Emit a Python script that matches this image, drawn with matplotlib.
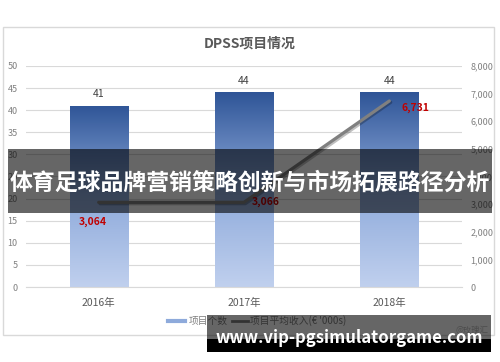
import numpy as np
import matplotlib.pyplot as plt
from matplotlib.patches import Rectangle
from matplotlib.ticker import FuncFormatter
from matplotlib.colors import LinearSegmentedColormap
import matplotlib.patheffects as pe

plt.rcParams['font.family'] = ['Noto Sans CJK SC', 'DejaVu Sans']

# 数据
years = ['2016年', '2017年', '2018年']
counts = [41, 44, 44]
income = [3064, 3066, 6731]
title = 'DPSS项目情况'
overlay_title = '体育足球品牌营销策略创新与市场拓展路径分析'
site = 'www.vip-pgsimulatorgame.com'

fig = plt.figure(figsize=(5, 3.62), dpi=100)
fig.patch.set_facecolor('white')

# 图表外框
fig.patches.append(Rectangle((3/500, 1-335/362), 491/500, 308/362, transform=fig.transFigure,
                             fill=False, edgecolor='#d9d9d9', lw=1, zorder=0))

ax = fig.add_axes([0.052, 0.207, 0.872, 0.611])
x = np.arange(len(years))

# 渐变柱
grad = np.linspace(0, 1, 256).reshape(-1, 1)
cmap = LinearSegmentedColormap.from_list('bar', ['#c0d0ee', '#8eaadb', '#2f5597'])
bars = ax.bar(x, counts, width=0.4, color='none', zorder=2)
for b in bars:
    x0, w, h = b.get_x(), b.get_width(), b.get_height()
    im = ax.imshow(grad, extent=[x0, x0+w, 0, h], origin='lower', aspect='auto',
                   cmap=cmap, zorder=2)
    im.set_clip_path(b)
    ax.text(x0+w/2, h+1.5, str(h), ha='center', va='bottom', fontsize=7.5, color='#404040')

ax.set_xlim(-0.5, 2.5)
ax.set_ylim(0, 50)
ax.set_yticks(range(0, 51, 5))
ax.set_xticks(x)
ax.set_xticklabels(years, fontsize=7.5, color='#595959')
ax.tick_params(axis='y', labelsize=6.5, labelcolor='#808080', length=0, pad=6)
ax.tick_params(axis='x', length=0, pad=8)
ax.grid(axis='y', color='#d9d9d9', lw=0.8, zorder=0)
ax.set_axisbelow(True)
for s in ax.spines.values():
    s.set_visible(False)
ax.spines['bottom'].set_visible(True)
ax.spines['bottom'].set_color('#d9d9d9')

ax2 = ax.twinx()
ax2.set_ylim(0, 8000)
ax2.set_yticks(range(0, 8001, 1000))
ax2.yaxis.set_major_formatter(FuncFormatter(lambda v, p: f'{int(v):,}'))
ax2.tick_params(axis='y', labelsize=6.5, labelcolor='#808080', length=0, pad=6)
for s in ax2.spines.values():
    s.set_visible(False)
ax2.plot(x, income, color='#808080', lw=2.3, solid_capstyle='round', zorder=3,
         path_effects=[pe.SimpleLineShadow(offset=(1, -1), alpha=0.25), pe.Normal()])
offs = [(-0.04, -700), (0.15, 0), (0.18, -250)]
for xi, v, (dx, dy) in zip(x, income, offs):
    ax2.text(xi+dx, v+dy, f'{v:,}', ha='center', va='center', fontsize=7.5,
             color='#c00000', fontweight='bold')

fig.text(0.5, 1-43/362, title, ha='center', va='center', fontsize=10, color='#595959', fontweight='bold')

# 图例
fig.lines.append(plt.Line2D([168/500, 185/500], [1-321/362]*2, transform=fig.transFigure,
                            color='#8eaadb', lw=3))
fig.text(189/500, 1-321/362, '项目个数', ha='left', va='center', fontsize=7, color='#808080')
fig.lines.append(plt.Line2D([232/500, 248/500], [1-321/362]*2, transform=fig.transFigure,
                            color='#7f7f7f', lw=2))
fig.text(250/500, 1-321/362, "项目平均收入(€ '000s)", ha='left', va='center', fontsize=7, color='#808080')
fig.text(472/500, 1-330/362, '@玫瑰汇', ha='center', va='center', fontsize=6, color='#bfbfbf')

# 覆盖条与水印
fig.patches.append(Rectangle((8/500, 1-213/362), 484/500, 64/362, transform=fig.transFigure,
                             facecolor='black', alpha=0.6, zorder=10))
fig.text(0.5, 1-183/362, overlay_title, ha='center', va='center', fontsize=16.5,
         color='white', fontweight='bold', zorder=11)
fig.patches.append(Rectangle((207/500, 1-339/362), 284/500, 24/362, transform=fig.transFigure,
                             facecolor='black', alpha=0.6, zorder=10))
fig.patches.append(Rectangle((207/500, 1-352/362), 284/500, 13/362, transform=fig.transFigure,
                             facecolor='black', zorder=10))
fig.text(349/500, 1-338/362, site, ha='center', va='center', fontsize=12,
         color='white', fontweight='bold', zorder=11)

fig.savefig('out.png', dpi=100)
